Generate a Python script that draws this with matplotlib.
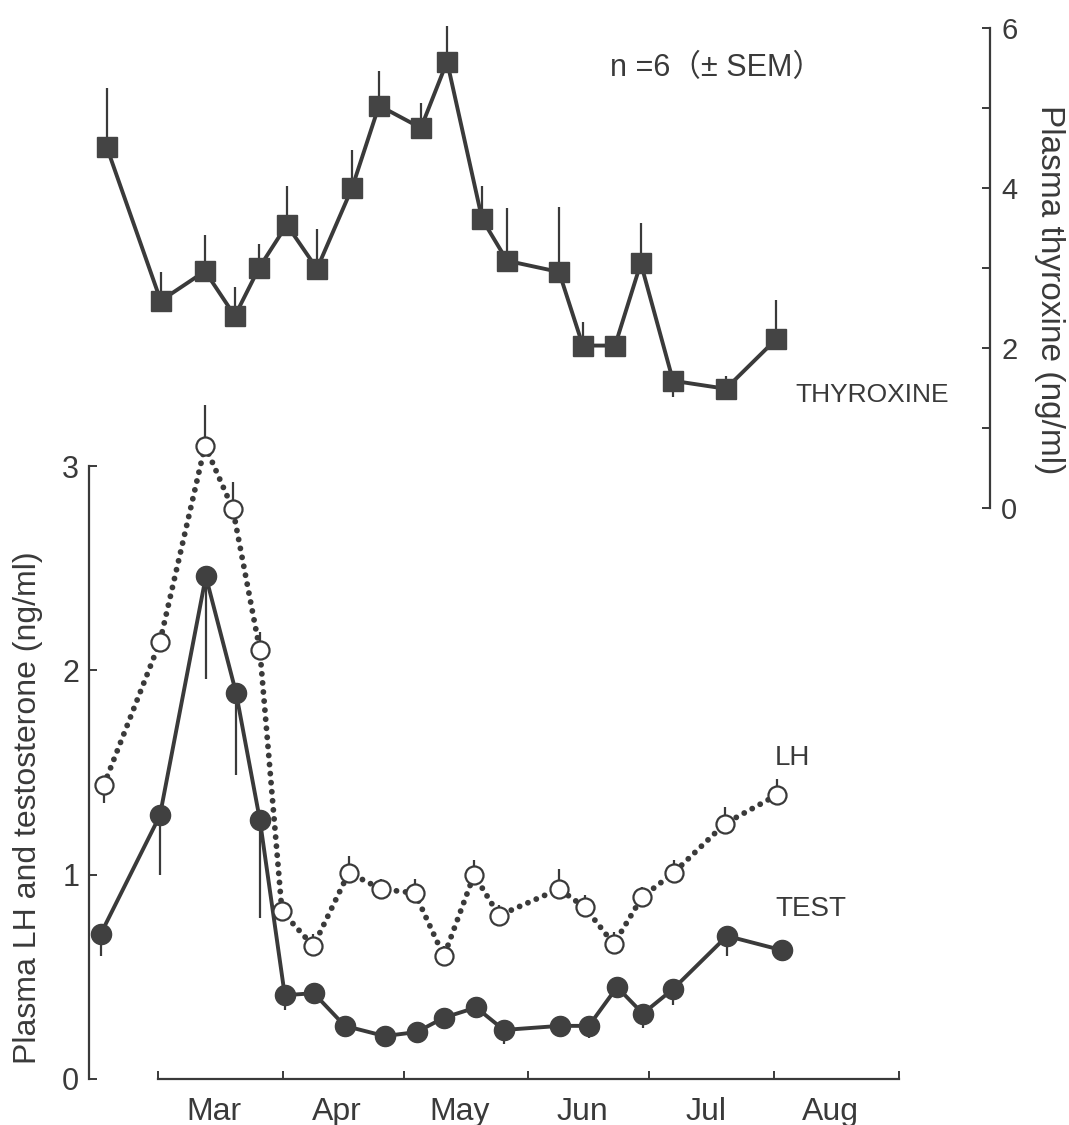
import numpy as np
import matplotlib.pyplot as plt
from matplotlib.ticker import FixedLocator, NullFormatter, FixedFormatter

plt.rcParams['font.family'] = ['Liberation Sans', 'DejaVu Sans']

INK = '#3a3a3a'

# sampling dates, days counted from 1 March
lh_days = [-13.4, 0.5, 11.7, 18.6, 25.3, 30.8, 38.6, 47.4, 55.4, 63.8,
           71.0, 78.5, 84.7, 99.6, 106.0, 113.2, 120.2, 128.1, 140.8, 153.7]
lh_vals = [1.44, 2.14, 3.10, 2.79, 2.10, 0.82, 0.65, 1.01, 0.93, 0.91,
           0.60, 1.00, 0.80, 0.93, 0.84, 0.66, 0.89, 1.01, 1.25, 1.39]
lh_err_lo = [0.09, 0, 0, 0, 0, 0, 0, 0, 0, 0,
             0, 0, 0, 0, 0, 0, 0, 0, 0, 0]
lh_err_hi = [0, 0, 0.20, 0.13, 0.09, 0.05, 0.06, 0.08, 0.05, 0.07,
             0.05, 0.07, 0.05, 0.10, 0.06, 0.06, 0.05, 0.06, 0.08, 0.08]

test_days = [-14.2, 0.5, 11.9, 19.4, 25.3, 31.5, 38.7, 46.4, 56.3, 64.3,
             71.0, 79.0, 85.9, 99.8, 107.0, 114.0, 120.4, 127.9, 141.3, 155.0]
test_vals = [0.71, 1.29, 2.46, 1.89, 1.27, 0.41, 0.42, 0.26, 0.21, 0.23,
             0.30, 0.35, 0.24, 0.26, 0.26, 0.45, 0.32, 0.44, 0.70, 0.63]
test_err_lo = [0.11, 0.29, 0.50, 0.40, 0.48, 0.07, 0, 0, 0, 0,
               0, 0.05, 0.07, 0, 0.06, 0, 0.07, 0.08, 0.10, 0]
test_err_hi = [0] * 20

t4_days = [-12.7, 0.7, 11.7, 19.1, 25.1, 32.0, 39.5, 48.2, 54.9, 65.3,
           71.8, 80.5, 86.7, 99.6, 105.5, 113.5, 119.9, 127.9, 141.0, 153.5]
t4_vals = [4.51, 2.59, 2.96, 2.40, 3.00, 3.54, 2.99, 4.00, 5.03, 4.75,
           5.58, 3.61, 3.09, 2.95, 2.03, 2.03, 3.06, 1.59, 1.49, 2.11]
t4_err_lo = [0] * 17 + [0.20, 0, 0]
t4_err_hi = [0.74, 0.36, 0.45, 0.36, 0.30, 0.49, 0.50, 0.48, 0.43, 0.31,
             0.45, 0.41, 0.66, 0.81, 0.29, 0, 0.50, 0, 0.16, 0.49]

month_starts = [0, 31, 61, 92, 122, 153, 184]
month_names = ['Mar', 'Apr', 'May', 'Jun', 'Jul', 'Aug']

fig = plt.figure(figsize=(10.69, 11.25), dpi=100)
ax = fig.add_axes([0.0833, 0.0409, 0.9261 - 0.0833, 0.9867 - 0.0409])
ax2 = ax.twinx()

ax.set_xlim(-17.1, 206.6)
ax.set_ylim(0, 5.208)
ax2.set_ylim(-7.1375, 6.1625)

# LH: open circles, dotted line
ax.errorbar(lh_days, lh_vals, yerr=[lh_err_lo, lh_err_hi], fmt='none',
            ecolor=INK, elinewidth=1.6, capsize=0, zorder=2)
ax.plot(lh_days, lh_vals, color=INK, lw=4.2, linestyle=(0, (0.01, 1.55)),
        dash_capstyle='round', zorder=3)
ax.plot(lh_days, lh_vals, 'o', ms=13, mfc='white', mec=INK, mew=1.6,
        linestyle='none', zorder=5)

# testosterone: filled circles, solid line
ax.errorbar(test_days, test_vals, yerr=[test_err_lo, test_err_hi], fmt='none',
            ecolor=INK, elinewidth=1.6, capsize=0, zorder=2)
ax.plot(test_days, test_vals, '-o', color=INK, lw=2.8, ms=14.5,
        mfc='#404040', mec='#404040', zorder=4)

# thyroxine: squares on right axis
ax2.errorbar(t4_days, t4_vals, yerr=[t4_err_lo, t4_err_hi], fmt='none',
             ecolor=INK, elinewidth=1.6, capsize=0, zorder=2)
ax2.plot(t4_days, t4_vals, '-s', color=INK, lw=2.8, ms=14.5,
         mfc='#444444', mec='#444444', zorder=4)

# spines
for a in (ax, ax2):
    for s in a.spines.values():
        s.set_visible(False)
ax.spines['left'].set_visible(True)
ax.spines['left'].set_bounds(0, 3)
ax.spines['bottom'].set_visible(True)
ax.spines['bottom'].set_bounds(month_starts[0], month_starts[-1])
ax2.spines['right'].set_visible(True)
ax2.spines['right'].set_bounds(0, 6)
for s in (ax.spines['left'], ax.spines['bottom'], ax2.spines['right']):
    s.set_color(INK)
    s.set_linewidth(1.6)

ax.set_yticks([0, 1, 2, 3])
ax.tick_params(axis='y', direction='in', length=6, width=1.4, color=INK,
               labelsize=22, labelcolor=INK, pad=7)

ax.xaxis.set_major_locator(FixedLocator(month_starts))
ax.xaxis.set_major_formatter(NullFormatter())
mids = [(a + b) / 2 - 1.5 for a, b in zip(month_starts[:-1], month_starts[1:])]
ax.xaxis.set_minor_locator(FixedLocator(mids))
ax.xaxis.set_minor_formatter(FixedFormatter(month_names))
ax.tick_params(axis='x', which='major', direction='in', length=6, width=1.4,
               color=INK)
ax.tick_params(axis='x', which='minor', length=0, labelsize=23,
               labelcolor=INK, pad=13)

ax2.yaxis.set_major_locator(FixedLocator([0, 2, 4, 6]))
ax2.yaxis.set_minor_locator(FixedLocator([1, 3, 5]))
ax2.tick_params(axis='y', which='both', direction='in', length=6, width=1.4,
                color=INK, labelsize=21, labelcolor=INK, pad=8)

fig.text(0.0262, 0.2818, 'Plasma LH and testosterone (ng/ml)', rotation=90,
         ha='center', va='center', fontsize=23, color=INK)
fig.text(0.9822, 0.7422, 'Plasma thyroxine (ng/ml)', rotation=270,
         ha='center', va='center', fontsize=24, color=INK)

ax2.text(112.2, 5.5, 'n =6（± SEM）', ha='left', va='center', fontsize=22,
         color=INK, family=['Liberation Sans', 'Noto Sans CJK JP'])
ax2.text(158.2, 1.41, 'THYROXINE', ha='left', va='center', fontsize=19,
         color=INK)
ax.text(153.2, 1.57, 'LH', ha='left', va='center', fontsize=20, color=INK)
ax.text(153.2, 0.83, 'TEST', ha='left', va='center', fontsize=20, color=INK)

fig.savefig('out.png', dpi=100, facecolor='white')
